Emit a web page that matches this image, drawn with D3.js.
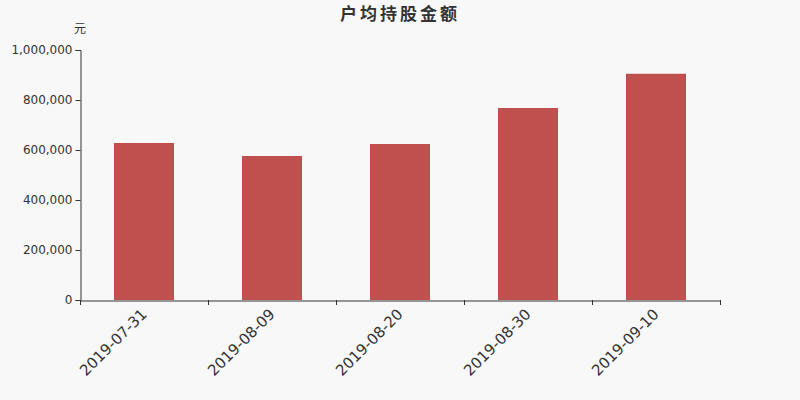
<!DOCTYPE html>
<html lang="zh">
<head>
<meta charset="UTF-8">
<title>户均持股金额</title>
<style>
    body { margin: 0; background: #f8f8f8; }
    svg { display: block; font-family: "DejaVu Sans", "Noto Sans CJK SC", sans-serif; }
</style>
</head>
<body>
<svg></svg>
<script src="https://d3js.org/d3.v7.min.js"></script>
<script>
    var dates = ["2019-07-31", "2019-08-09", "2019-08-20", "2019-08-30", "2019-09-10"];
    var values = [628000, 576000, 624000, 768000, 905000];
    var yTicks = [0, 200000, 400000, 600000, 800000, 1000000];

    var width = 800, height = 400;
    var plotLeft = 80, plotRight = 720, plotTop = 50, plotBottom = 300;

    var svg = d3.select("svg").attr("width", width).attr("height", height);
    svg.append("rect").attr("width", width).attr("height", height).attr("fill", "#f8f8f8");

    var x = d3.scaleBand().domain(dates).range([plotLeft, plotRight]);
    var y = d3.scaleLinear().domain([0, 1000000]).range([plotBottom, plotTop]);

    svg.append("text")
        .attr("x", 400).attr("y", 20)
        .attr("text-anchor", "middle")
        .attr("font-size", 17).attr("font-weight", "bold")
        .attr("letter-spacing", 3)
        .attr("fill", "#333")
        .text("户均持股金额");

    svg.append("text")
        .attr("x", 80).attr("y", 33)
        .attr("text-anchor", "middle")
        .attr("font-size", 12)
        .attr("fill", "#333")
        .text("元");

    svg.selectAll("rect.bar")
        .data(values)
        .enter().append("rect")
        .attr("class", "bar")
        .attr("x", function (d, i) { return x(dates[i]) + (x.bandwidth() - 60) / 2; })
        .attr("y", function (d) { return y(d); })
        .attr("width", 60)
        .attr("height", function (d) { return y(0) - y(d); })
        .attr("fill", "#c0504d");

    var yAxis = svg.append("g")
        .attr("transform", "translate(" + (plotLeft + 0.5) + ",0)")
        .call(d3.axisLeft(y).tickValues(yTicks).tickSize(5).tickPadding(3).tickFormat(d3.format(",")));
    yAxis.selectAll("text").attr("font-size", 12).attr("fill", "#333").attr("font-family", "DejaVu Sans");
    yAxis.selectAll("line, path").attr("stroke", "#333");

    var xAxis = svg.append("g")
        .attr("transform", "translate(0," + (plotBottom + 0.5) + ")")
        .call(d3.axisBottom(x).tickSize(0).tickSizeOuter(0));
    xAxis.select("path").attr("stroke", "#333");
    xAxis.selectAll(".tick line").remove();
    xAxis.selectAll(".tick text")
        .attr("font-size", 15).attr("fill", "#333").attr("font-family", "DejaVu Sans")
        .attr("text-anchor", "end")
        .attr("dy", "0.35em")
        .attr("transform", "translate(0,11) rotate(-45)")
        .attr("x", 0).attr("y", 0);

    // ticks on band boundaries
    var bounds = dates.map(function (d) { return x(d); }).concat([plotRight]);
    svg.append("g").selectAll("line")
        .data(bounds)
        .enter().append("line")
        .attr("x1", function (d) { return d + 0.5; })
        .attr("x2", function (d) { return d + 0.5; })
        .attr("y1", plotBottom).attr("y2", plotBottom + 5)
        .attr("stroke", "#333");
</script>
</body>
</html>
